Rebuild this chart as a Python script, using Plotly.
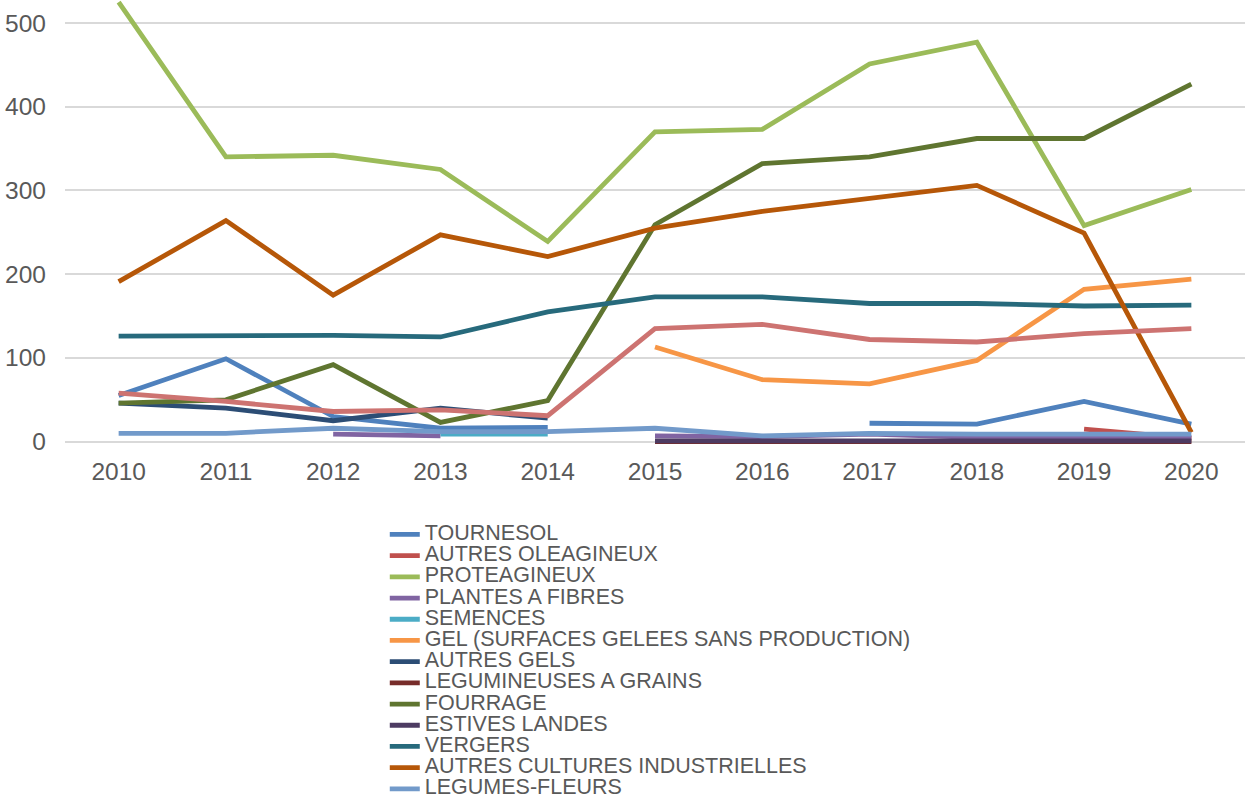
import plotly.graph_objects as go

years = ["2010", "2011", "2012", "2013", "2014", "2015", "2016", "2017", "2018", "2019", "2020"]
N = None

tournesol = [55, 99, 30, 16, 17, N, N, 22, 21, 48, 21]
autres_oleagineux = [N, N, N, N, N, N, N, N, N, 15, 4]
proteagineux = [525, 340, 342, 325, 239, 370, 373, 451, 477, 258, 301]
plantes_fibres = [N, N, 9, 7, N, 7, 6, 9, 5, 5, 5]
semences = [N, N, N, 9, 9, N, N, N, N, N, N]
gel = [N, N, N, N, N, 113, 74, 69, 97, 182, 194]
autres_gels = [46, 40, 25, 40, 28, N, N, N, N, N, N]
legumineuses = [N, N, N, N, N, 0, 0, 0, 0, 0, 0]
fourrage = [46, 50, 92, 23, 49, 259, 332, 340, 362, 362, 427]
estives = [N, N, N, N, N, 1, 1, 1, 1, 1, 1]
vergers = [126, 126, 127, 125, 155, 173, 173, 165, 165, 162, 163]
autres_cult_ind = [191, 264, 175, 247, 221, 255, 275, 290, 306, 249, 11]
legumes_fleurs = [10, 10, 16, 12, 12, 16, 7, 10, 9, 9, 9]
serie14 = [58, 48, 36, 38, 31, 135, 140, 122, 119, 129, 135]

series_names = [
    "TOURNESOL", "AUTRES OLEAGINEUX", "PROTEAGINEUX", "PLANTES A FIBRES", "SEMENCES",
    "GEL (SURFACES GELEES SANS PRODUCTION)", "AUTRES GELS", "LEGUMINEUSES A GRAINS",
    "FOURRAGE", "ESTIVES LANDES", "VERGERS", "AUTRES CULTURES INDUSTRIELLES", "LEGUMES-FLEURS",
]
series_values = [
    tournesol, autres_oleagineux, proteagineux, plantes_fibres, semences, gel, autres_gels,
    legumineuses, fourrage, estives, vergers, autres_cult_ind, legumes_fleurs,
]
colors = [
    "#4F81BD", "#C0504D", "#9BBB59", "#8064A2", "#4BACC6", "#F79646", "#2C4D75",
    "#772C2A", "#5F7530", "#4D3B62", "#276A7C", "#B65708", "#729ACA",
]

fig = go.Figure()
for name, vals, col in zip(series_names, series_values, colors):
    fig.add_trace(go.Scatter(
        x=years, y=vals, mode="lines", connectgaps=False,
        name='<span style="font-size:21.5px">' + name + "</span>",
        line=dict(color=col, width=4.8),
    ))
fig.add_trace(go.Scatter(
    x=years, y=serie14, mode="lines", name="série 14", showlegend=False,
    line=dict(color="#CD7371", width=4.8),
))

fig.update_layout(
    width=1248, height=798,
    paper_bgcolor="white", plot_bgcolor="white",
    margin=dict(l=65, r=3, t=0, b=353, autoexpand=False),
    font=dict(family="Liberation Sans, Arial, sans-serif", color="#595959", size=24.5),
    showlegend=True,
    legend=dict(
        xref="paper", yref="paper", x=0.271, y=-0.166,
        xanchor="left", yanchor="top",
        font=dict(size=14, color="#595959"),
        bgcolor="rgba(0,0,0,0)", tracegroupgap=0,
    ),
)
fig.update_xaxes(
    type="category", range=[-0.5, 10.5], showgrid=False, zeroline=False,
    showline=False, ticks="", tickfont=dict(size=24.5, color="#595959"),
    ticklabelstandoff=9,
)
fig.update_yaxes(
    range=[-4, 527.4], tickmode="array", tickvals=[0, 100, 200, 300, 400, 500],
    showgrid=True, gridcolor="#D9D9D9", gridwidth=1.5, zeroline=False,
    showline=False, ticks="", tickfont=dict(size=24.5, color="#595959"),
    ticklabelstandoff=18,
)

fig.write_html(
    "out.html",
    config={"displayModeBar": False},
    post_script="document.body.style.margin='0';",
)
